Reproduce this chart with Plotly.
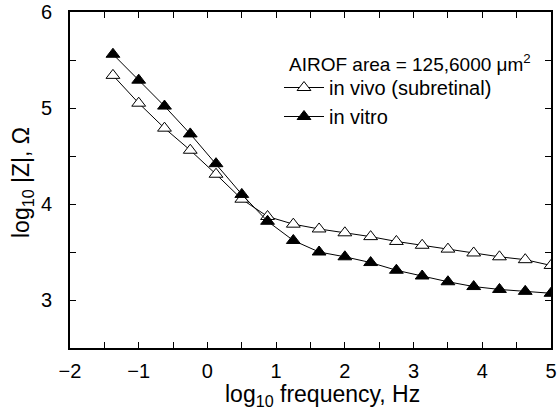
import plotly.graph_objects as go

log_freq = [-1.375, -1.0, -0.625, -0.25, 0.125, 0.5, 0.875, 1.25, 1.625, 2.0,
            2.375, 2.75, 3.125, 3.5, 3.875, 4.25, 4.625, 5.0]
in_vivo = [5.34, 5.05, 4.79, 4.56, 4.31, 4.05, 3.87, 3.79, 3.74, 3.70,
           3.66, 3.61, 3.57, 3.53, 3.49, 3.45, 3.42, 3.36]
in_vitro = [5.56, 5.29, 5.02, 4.73, 4.42, 4.10, 3.82, 3.62, 3.50, 3.45,
            3.39, 3.31, 3.25, 3.19, 3.14, 3.11, 3.09, 3.07]

x_ticks = [-2, -1, 0, 1, 2, 3, 4, 5]
y_ticks = [3, 4, 5, 6]

FONT = "Liberation Sans, Arial, sans-serif"
# plot area in page pixels
L, R, T, B = 70, 551, 12, 348
W, H = 557, 417


def px_x(p):
    return (p - L) / (R - L)


def px_y(p):
    return (B - p) / (B - T)


fig = go.Figure()
fig.add_trace(go.Scatter(
    x=log_freq, y=in_vivo, mode="lines+markers", name="in vivo (subretinal)",
    line=dict(color="black", width=1),
    marker=dict(symbol="triangle-up", size=12, color="white",
                line=dict(color="black", width=1))))
fig.add_trace(go.Scatter(
    x=log_freq, y=in_vitro, mode="lines+markers", name="in vitro",
    line=dict(color="black", width=1),
    marker=dict(symbol="triangle-up", size=12, color="black",
                line=dict(color="black", width=1))))

axis_common = dict(
    showline=True, linecolor="black", linewidth=2, mirror="ticks",
    ticks="inside", ticklen=6, tickwidth=1, tickcolor="black",
    showgrid=False, zeroline=False, automargin=False,
    ticklabeloverflow="allow",
    tickfont=dict(family=FONT, size=20, color="black"),
    minor=dict(ticks="inside", ticklen=6, tickwidth=1, tickcolor="black",
               dtick=0.5, showgrid=False),
)

fig.update_xaxes(range=[-2, 5], tickmode="linear", tick0=x_ticks[0], dtick=1,
                 ticklabelstandoff=4, **axis_common)
fig.update_yaxes(range=[2.5, 6], tickmode="linear", tick0=y_ticks[0], dtick=1,
                 ticklabelstandoff=12, **axis_common)

fig.add_annotation(xref="paper", yref="paper", x=px_x(322), y=px_y(395),
                   xanchor="center", yanchor="middle", showarrow=False,
                   text="log<sub>10</sub> frequency, Hz",
                   font=dict(family=FONT, size=23, color="black"))
fig.add_annotation(xref="paper", yref="paper", x=px_x(22), y=px_y(183),
                   xanchor="center", yanchor="middle", showarrow=False, textangle=-90,
                   text="log<sub>10</sub> |Z|, Ω",
                   font=dict(family=FONT, size=23, color="black"))
fig.add_annotation(xref="paper", yref="paper", x=px_x(287), y=px_y(63),
                   xanchor="left", yanchor="middle", showarrow=False,
                   text="AIROF area = 125,6000 μm<sup>2</sup>",
                   font=dict(family=FONT, size=19, color="black"))

fig.update_layout(
    template="plotly_white",
    width=W, height=H,
    margin=dict(l=L, r=W - R, t=T, b=H - B),
    paper_bgcolor="white", plot_bgcolor="white",
    showlegend=True,
    legend=dict(x=px_x(279), y=px_y(68), xanchor="left", yanchor="top",
                bgcolor="rgba(0,0,0,0)", borderwidth=0,
                font=dict(family=FONT, size=20, color="black"),
                tracegroupgap=0, itemwidth=40),
    font=dict(family=FONT, color="black"),
)

fig.write_html("out.html", config={"displayModeBar": False},
               post_script="document.body.style.margin='0px';document.body.style.overflow='hidden';")
